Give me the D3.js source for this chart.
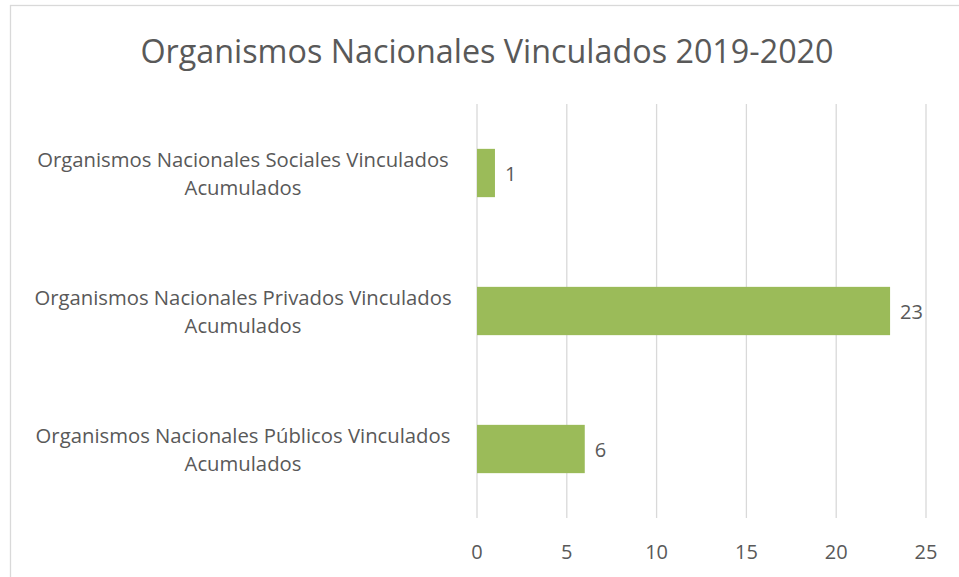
<!DOCTYPE html>
<html>
<head>
<meta charset="utf-8">
<script src="https://cdn.jsdelivr.net/npm/d3@7"></script>
<style>
  body { margin: 0; background: #fff; }
  text { font-family: "Open Sans", sans-serif; fill: #595959; }
</style>
</head>
<body>
<svg id="chart"></svg>
<script>
var title = "Organismos Nacionales Vinculados 2019-2020";
var categories = [
    ["Organismos Nacionales Sociales Vinculados", "Acumulados"],
    ["Organismos Nacionales Privados Vinculados", "Acumulados"],
    ["Organismos Nacionales Públicos Vinculados", "Acumulados"]
];
var values = [1, 23, 6];
var ticks = [0, 5, 10, 15, 20, 25];

var width = 959;
var height = 577;
var margin = { top: 104, right: 33, bottom: 59, left: 477 };

var svg = d3.select("#chart")
    .attr("width", width)
    .attr("height", height);

// chart border
svg.append("rect")
    .attr("x", 10.5)
    .attr("y", 5.5)
    .attr("width", 960)
    .attr("height", 600)
    .attr("fill", "#fff")
    .attr("stroke", "#d9d9d9")
    .attr("stroke-width", 1.3);

svg.append("text")
    .attr("x", 487)
    .attr("y", 63)
    .attr("text-anchor", "middle")
    .attr("font-size", 32.3)
    .text(title);

var xScale = d3.scaleLinear()
    .domain([0, 25])
    .range([margin.left, width - margin.right]);

var yScale = d3.scaleBand()
    .domain(d3.range(categories.length))
    .range([margin.top, height - margin.bottom])
    .paddingInner(0.65)
    .paddingOuter(0.325);

// gridlines
svg.selectAll("line.grid")
    .data(ticks)
    .enter()
    .append("line")
    .attr("class", "grid")
    .attr("x1", function(d) { return xScale(d); })
    .attr("x2", function(d) { return xScale(d); })
    .attr("y1", margin.top)
    .attr("y2", height - margin.bottom)
    .attr("stroke", "#d9d9d9")
    .attr("stroke-width", 1.3);

// tick labels
svg.selectAll("text.tick")
    .data(ticks)
    .enter()
    .append("text")
    .attr("class", "tick")
    .attr("x", function(d) { return xScale(d); })
    .attr("y", 559)
    .attr("text-anchor", "middle")
    .attr("font-size", 20)
    .text(function(d) { return d; });

svg.selectAll("rect.bar")
    .data(values)
    .enter()
    .append("rect")
    .attr("class", "bar")
    .attr("x", xScale(0))
    .attr("y", function(d, i) { return yScale(i); })
    .attr("width", function(d) { return xScale(d) - xScale(0); })
    .attr("height", yScale.bandwidth())
    .attr("fill", "#9bbb59");

// data labels
svg.selectAll("text.val")
    .data(values)
    .enter()
    .append("text")
    .attr("class", "val")
    .attr("x", function(d) { return xScale(d) + 10; })
    .attr("y", function(d, i) { return yScale(i) + yScale.bandwidth() / 2 + 8; })
    .attr("font-size", 20)
    .text(function(d) { return d; });

// category labels, two lines each
categories.forEach(function(lines, i) {
    var cy = yScale(i) + yScale.bandwidth() / 2;
    lines.forEach(function(line, j) {
        svg.append("text")
            .attr("class", "cat")
            .attr("x", 243)
            .attr("y", cy - 6 + j * 28)
            .attr("text-anchor", "middle")
            .attr("font-size", 20.3)
            .text(line);
    });
});
</script>
</body>
</html>
